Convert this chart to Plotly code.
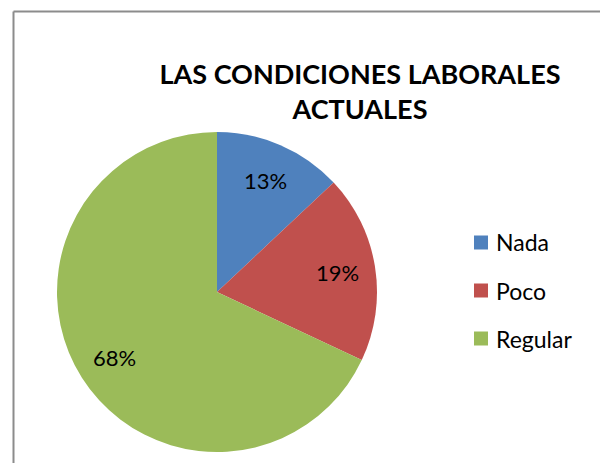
import numpy as np
import plotly.graph_objects as go

categorias = ["Nada", "Poco", "Regular"]
porcentajes = [13, 19, 68]
colores = ["#4F81BD", "#C0504D", "#9BBB59"]
titulo = "LAS CONDICIONES LABORALES<br>ACTUALES"

# la pagina tiene 8px de margen en el body
OFF = 8
W, H = 592, 455


def px_x(x):
    return (x - OFF) / W


def px_y(y):
    return 1 - (y - OFF) / H


# centro y radio de la torta en pixeles de la imagen
cx, cy, r = 217, 292, 160

fig = go.Figure()
fig.add_trace(go.Pie(labels = categorias,
                     values = porcentajes,
                     sort = False,
                     direction = "clockwise",
                     rotation = 0,
                     marker = dict(colors = colores, line = dict(width = 0)),
                     textinfo = "none",
                     showlegend = False,
                     hovertemplate = "%{label}: %{percent:.0%}<extra></extra>",
                     domain = dict(x = [px_x(cx - r), px_x(cx + r)], y = [px_y(cy + r), px_y(cy - r)])))

# etiquetas de porcentaje sobre la bisectriz de cada porcion
total = sum(porcentajes)
acum = 0
for val in porcentajes:
    frac_mid = (acum + val / 2) / total
    acum += val
    ang = 2 * np.pi * frac_mid
    lx = cx + 0.76 * r * np.sin(ang)
    ly = cy - 0.76 * r * np.cos(ang)
    fig.add_annotation(x = px_x(lx), y = px_y(ly), xref = "paper", yref = "paper",
                       text = "{:.0f}%".format(100 * val / total), showarrow = False,
                       xanchor = "center", yanchor = "middle",
                       font = dict(family = "Lato", size = 22, color = "black"))

# leyenda hecha a mano para respetar el espaciado
for i, (cat, col) in enumerate(zip(categorias, colores)):
    yc = 242.5 + i * 48
    fig.add_shape(type = "rect", xref = "paper", yref = "paper",
                  x0 = px_x(474), x1 = px_x(488), y0 = px_y(yc + 7), y1 = px_y(yc - 7),
                  fillcolor = col, line_width = 0)
    fig.add_annotation(x = px_x(494), y = px_y(yc), xref = "paper", yref = "paper",
                       text = cat, showarrow = False, xanchor = "left", yanchor = "middle",
                       font = dict(family = "Lato", size = 23, color = "black"))

# marco del grafico (lineas sueltas)
gris = dict(color = "#8c8c8c", width = 2)
fig.add_shape(type = "line", xref = "paper", yref = "paper",
              x0 = px_x(13.5), x1 = px_x(602.5), y0 = px_y(11.5), y1 = px_y(11.5), line = gris)
fig.add_shape(type = "line", xref = "paper", yref = "paper",
              x0 = px_x(13.5), x1 = px_x(13.5), y0 = px_y(11.5), y1 = px_y(470), line = gris)
fig.add_shape(type = "line", xref = "paper", yref = "paper",
              x0 = px_x(602.5), x1 = px_x(602.5), y0 = px_y(11.5), y1 = px_y(470), line = gris)

fig.update_layout(width = W,
                  height = H,
                  margin = dict(l = 0, r = 0, t = 0, b = 0),
                  paper_bgcolor = "white",
                  plot_bgcolor = "white",
                  title = dict(text = titulo,
                               x = px_x(360),
                               xanchor = "center",
                               y = px_y(84),
                               yanchor = "middle",
                               font = dict(family = "Lato", size = 27, color = "black",
                                           weight = "bold")))

fig.write_html("out.html")
